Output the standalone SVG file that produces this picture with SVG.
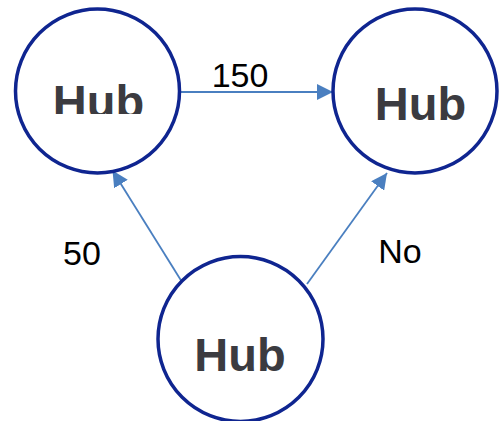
<svg xmlns="http://www.w3.org/2000/svg" width="501" height="421" viewBox="0 0 501 421">
<style>
.node{fill:#ffffff;stroke:#0f2590;stroke-width:3.5}
.hub{font-family:"Liberation Sans",Arial,sans-serif;font-weight:bold;font-size:47px;fill:#3b3b40;text-anchor:middle}
.lbl{font-family:"Liberation Sans",Arial,sans-serif;font-size:34px;fill:#000000;text-anchor:middle}
.edge{stroke:#4a7fc0;stroke-width:1.8;fill:none;marker-end:url(#arr)}
</style>
<defs>
<marker id="arr" viewBox="0 0 16 16" refX="16" refY="8" markerWidth="16" markerHeight="16" markerUnits="userSpaceOnUse" orient="auto">
<path d="M0,0 L16,8 L0,16 Z" fill="#4a7fc0"/>
</marker>
<clipPath id="clipA"><rect x="0" y="0" width="200" height="114"/></clipPath>
</defs>
<rect width="501" height="421" fill="#ffffff"/>
<g id="connectors">
<path class="edge" d="M181,92 L333,92"/>
<path class="edge" d="M182,282 L112.5,170.5"/>
<path class="edge" d="M307,284 L387,173"/>
</g>
<g id="hubA">
<circle class="node" cx="97.5" cy="91" r="82"/>
<text class="hub" x="98.5" y="118" clip-path="url(#clipA)">Hub</text>
</g>
<g id="hubB">
<circle class="node" cx="415" cy="91" r="82"/>
<text class="hub" x="420.5" y="120">Hub</text>
</g>
<g id="hubC">
<circle class="node" cx="240.5" cy="339" r="82.5"/>
<text class="hub" x="240" y="371">Hub</text>
</g>
<g id="labels">
<text class="lbl" x="240" y="87">150</text>
<text class="lbl" x="82" y="265">50</text>
<text class="lbl" x="400" y="263">No</text>
</g>
</svg>
